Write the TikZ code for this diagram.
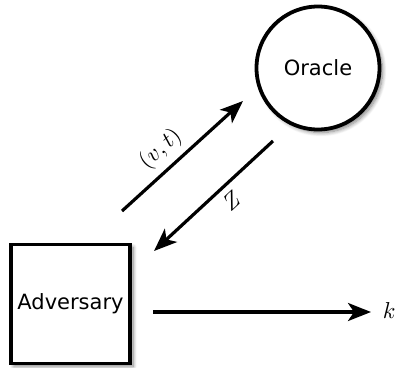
\documentclass[tikz,border=0pt]{standalone}
\usepackage{fontspec}
\setsansfont{DejaVu Sans}
\usetikzlibrary{arrows.meta,shadows.blur}
\tikzset{
  thing/.style={draw=black, line width=3.8pt, fill=white, font=\sffamily\fontsize{21}{24}\selectfont,
    blur shadow={shadow blur steps=8, shadow blur radius=4pt, shadow xshift=3pt, shadow yshift=-3pt, shadow opacity=50}},
  flow/.style={line width=3.2pt, -{Stealth[length=23pt,width=18pt,inset=6pt]}},
  lbl/.style={scale=2.3, inner sep=1pt}
}
\begin{document}
\begin{tikzpicture}[x=1pt,y=-1pt]
\useasboundingbox (0,0) rectangle (396,367);
\node[thing, circle, minimum size=123pt, inner sep=0pt] (oracle) at (318,68) {Oracle};
\node[thing, rectangle, minimum size=119pt, inner sep=0pt] (adv) at (70.5,304) {Adversary};
\coordinate (vts) at (122,211);
\coordinate (vte) at (243,101);
\coordinate (zs) at (273,141);
\coordinate (ze) at (154,251);
\coordinate (ks) at (153,312);
\coordinate (ke) at (371,312);
\draw[flow] (vts) -- node[lbl, sloped, above=1pt, pos=0.43] {$(v,t)$} (vte);
\draw[flow] (zs) -- node[lbl, sloped, below=1pt, pos=0.44] {$Z$} (ze);
\draw[flow] (ks) -- (ke);
\node[lbl, anchor=west] (k) at (380,311) {$k$};
\end{tikzpicture}
\end{document}
